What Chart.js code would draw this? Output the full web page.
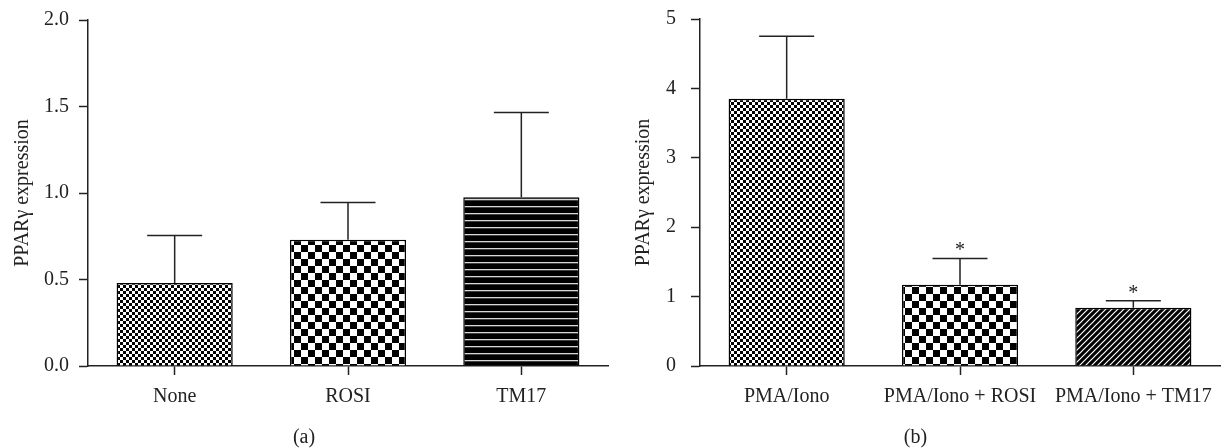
<!DOCTYPE html>
<html>
<head>
<meta charset="utf-8">
<script src="https://cdn.jsdelivr.net/npm/chart.js@4.4.1/dist/chart.umd.min.js"></script>
<style>
  html, body { margin: 0; padding: 0; background: #fff; }
  .panel { position: absolute; top: 0; height: 448px; }
  #panelA { left: 0; width: 611px; }
  #panelB { left: 611px; width: 612px; }
</style>
</head>
<body>
<div class="panel" id="panelA"><canvas id="chartA"></canvas></div>
<div class="panel" id="panelB"><canvas id="chartB"></canvas></div>
<script>
// panel (a)
const categoriesA = ['None', 'ROSI', 'TM17'];
const meansA = [0.48, 0.73, 0.975];
const errorsA = [0.275, 0.215, 0.49];
const yTicksA = [0, 0.5, 1.0, 1.5, 2.0];

// panel (b)
const categoriesB = ['PMA/Iono', 'PMA/Iono + ROSI', 'PMA/Iono + TM17'];
const meansB = [3.85, 1.17, 0.84];
const errorsB = [0.9, 0.38, 0.1];
const marksB = ['', '*', '*'];
const yTicksB = [0, 1, 2, 3, 4, 5];

const FONT = 'Liberation Serif';
const INK = '#222';

// pattern fills, built on small tiles
function makePattern(size, draw) {
  const tile = document.createElement('canvas');
  tile.width = size[0];
  tile.height = size[1];
  const c = tile.getContext('2d');
  draw(c);
  return c.createPattern(tile, 'repeat');
}

function checker(cell) {
  return makePattern([cell * 2, cell * 2], c => {
    c.fillStyle = '#fff';
    c.fillRect(0, 0, cell * 2, cell * 2);
    c.fillStyle = '#000';
    c.fillRect(0, 0, cell, cell);
    c.fillRect(cell, cell, cell, cell);
  });
}

const fineDots = checker(3);
const bigChecker = checker(7);
const hStripes = makePattern([8, 7], c => {
  c.fillStyle = '#000';
  c.fillRect(0, 0, 8, 7);
  c.fillStyle = '#d8d8d8';
  c.fillRect(0, 3, 8, 1.3);
});
const diagHatch = makePattern([6, 6], c => {
  c.fillStyle = '#000';
  c.fillRect(0, 0, 6, 6);
  c.strokeStyle = '#fff';
  c.lineWidth = 1.2;
  c.beginPath();
  c.moveTo(-1, 7); c.lineTo(7, -1);
  c.moveTo(-1, 1); c.lineTo(1, -1);
  c.moveTo(5, 7); c.lineTo(7, 5);
  c.stroke();
});

// error bars + significance marks
const errorBars = {
  id: 'errorBars',
  afterDatasetsDraw(chart, args, opts) {
    const ctx = chart.ctx;
    const y = chart.scales.y;
    const values = chart.data.datasets[0].data;
    const meta = chart.getDatasetMeta(0);
    ctx.save();
    ctx.strokeStyle = INK;
    ctx.lineWidth = 1.5;
    meta.data.forEach((bar, i) => {
      const top = y.getPixelForValue(values[i] + opts.errors[i]);
      const half = opts.capWidth / 2;
      ctx.beginPath();
      ctx.moveTo(bar.x, bar.y);
      ctx.lineTo(bar.x, top);
      ctx.moveTo(bar.x - half, top);
      ctx.lineTo(bar.x + half, top);
      ctx.stroke();
      if (opts.marks && opts.marks[i]) {
        ctx.fillStyle = INK;
        ctx.font = '20px "' + FONT + '"';
        ctx.textAlign = 'center';
        ctx.textBaseline = 'alphabetic';
        ctx.fillText(opts.marks[i], bar.x, top - 2);
      }
    });
    ctx.restore();
  }
};

function buildChart(id, cfg) {
  return new Chart(document.getElementById(id), {
    type: 'bar',
    data: {
      labels: cfg.labels,
      datasets: [{
        data: cfg.values,
        backgroundColor: cfg.fills,
        borderColor: '#000',
        borderWidth: 1.5,
        barPercentage: 0.67,
        categoryPercentage: 1
      }]
    },
    options: {
      responsive: true,
      maintainAspectRatio: false,
      animation: false,
      layout: {padding: {top: cfg.padTop, right: 3, left: 0, bottom: 0}},
      plugins: {
        legend: {display: false},
        tooltip: {enabled: false},
        title: {
          display: true,
          text: cfg.panel,
          position: 'bottom',
          color: INK,
          font: {family: FONT, size: 20, weight: 'normal', lineHeight: 1},
          padding: 0
        },
        errorBars: {errors: cfg.errors, marks: cfg.marks, capWidth: 55}
      },
      scales: {
        x: {
          grid: {offset: false, drawOnChartArea: false, tickLength: 9, tickColor: INK, tickWidth: 1.5},
          border: {color: INK, width: 1.5},
          // small padding + tall line box keeps the labels low without shrinking the plot
          ticks: {color: INK, font: {family: FONT, size: 20, lineHeight: 2}, padding: 2, maxRotation: 0, autoSkip: false},
          afterFit: s => { s.height = 62; }
        },
        y: {
          min: 0,
          max: cfg.max,
          afterBuildTicks: s => { s.ticks = cfg.ticks.map(v => ({value: v})); },
          grid: {drawOnChartArea: false, tickLength: 9, tickColor: INK, tickWidth: 1.5},
          border: {color: INK, width: 1.5},
          ticks: {color: INK, font: {family: FONT, size: 20, lineHeight: cfg.tickLH}, padding: cfg.tickPad, callback: cfg.fmt},
          title: {
            display: true,
            text: 'PPARγ expression',
            color: INK,
            font: {family: FONT, size: 20},
            padding: {top: cfg.titlePad, bottom: 0}
          },
          afterFit: s => { s.width = cfg.axisWidth; }
        }
      }
    },
    plugins: [errorBars]
  });
}

buildChart('chartA', {
  labels: categoriesA,
  values: meansA,
  errors: errorsA,
  marks: null,
  fills: [fineDots, bigChecker, hStripes],
  ticks: yTicksA,
  max: 2,
  fmt: v => v.toFixed(1),
  panel: '(a)',
  padTop: 20,
  tickPad: 10,
  tickLH: 0.8,
  titlePad: 11,
  axisWidth: 88
});

buildChart('chartB', {
  labels: categoriesB,
  values: meansB,
  errors: errorsB,
  marks: marksB,
  fills: [fineDots, bigChecker, diagHatch],
  ticks: yTicksB,
  max: 5,
  fmt: v => String(v),
  panel: '(b)',
  padTop: 19,
  tickPad: 15,
  tickLH: 0.4,
  titlePad: 21,
  axisWidth: 89
});
</script>
</body>
</html>
